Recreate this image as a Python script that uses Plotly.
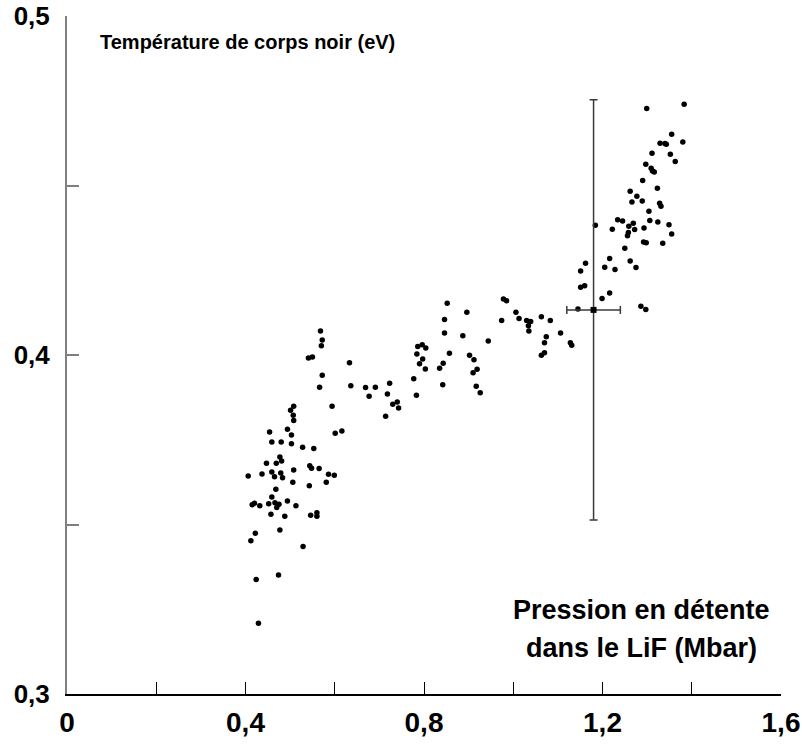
"""Température de corps noir vs pression en détente dans le LiF."""

import plotly.graph_objects as go

# ── Data ──────────────────────────────────────────────────────────────────────

pressure = [
    0.633, 0.572, 0.566, 0.636, 0.669, 0.691, 0.723, 0.677, 0.718, 0.730,
    0.740, 0.743, 0.714, 0.594, 0.508, 0.501, 0.507, 0.508, 0.454, 0.494,
    0.503, 0.459, 0.480, 0.503, 0.528, 0.553, 0.601, 0.616, 0.477, 0.447,
    0.469, 0.481, 0.544, 0.548, 0.565, 0.459, 0.479, 0.508, 0.406, 0.437,
    0.465, 0.483, 0.586, 0.599, 0.506, 0.543, 0.581, 0.468, 0.459, 0.415,
    0.420, 0.432, 0.452, 0.466, 0.475, 0.470, 0.494, 0.513, 0.457, 0.488,
    0.546, 0.560, 0.560, 0.422, 0.412, 0.477, 0.529, 0.424, 0.474, 0.429,
    0.852, 0.896, 0.846, 0.846, 0.887, 0.944, 0.978, 0.985, 0.974, 1.006,
    1.013, 1.030, 1.039, 1.034, 1.035, 1.063, 1.083, 1.106, 1.074, 1.070,
    1.070, 1.063, 1.128, 1.131, 1.145, 1.151, 1.160, 0.786, 0.796, 0.804,
    0.784, 0.797, 0.790, 0.803, 0.777, 0.783, 0.857, 0.843, 0.835, 0.842,
    0.902, 0.912, 0.919, 0.910, 0.917, 0.926,
    1.299, 1.383, 1.355, 1.329, 1.340, 1.343, 1.380, 1.311, 1.352, 1.363,
    1.297, 1.309, 1.312, 1.316, 1.290, 1.323, 1.262, 1.277, 1.266, 1.289,
    1.328, 1.331, 1.304, 1.234, 1.245, 1.306, 1.324, 1.269, 1.259, 1.293,
    1.272, 1.349, 1.184, 1.222, 1.258, 1.256, 1.355, 1.292, 1.298, 1.335,
    1.250, 1.216, 1.162, 1.262, 1.151, 1.205, 1.228, 1.275, 1.216, 1.199,
    1.286, 1.297,
    0.568, 0.572, 0.570, 0.550, 0.541,
]

temperature = [
    0.3977, 0.3940, 0.3905, 0.3909, 0.3904, 0.3905, 0.3917, 0.3878, 0.3885, 0.3855,
    0.3861, 0.3844, 0.3819, 0.3849, 0.3849, 0.3837, 0.3822, 0.3807, 0.3773, 0.3781,
    0.3764, 0.3743, 0.3743, 0.3738, 0.3728, 0.3724, 0.3769, 0.3776, 0.3699, 0.3681,
    0.3681, 0.3687, 0.3673, 0.3666, 0.3665, 0.3655, 0.3652, 0.3661, 0.3643, 0.3649,
    0.3641, 0.3638, 0.3648, 0.3645, 0.3625, 0.3614, 0.3625, 0.3604, 0.3581, 0.3558,
    0.3563, 0.3555, 0.3561, 0.3564, 0.3560, 0.3550, 0.3569, 0.3555, 0.3530, 0.3524,
    0.3527, 0.3535, 0.3524, 0.3474, 0.3452, 0.3484, 0.3435, 0.3338, 0.3351, 0.3209,
    0.4153, 0.4126, 0.4105, 0.4065, 0.4057, 0.4041, 0.4165, 0.4160, 0.4102, 0.4126,
    0.4108, 0.4102, 0.4099, 0.4086, 0.4071, 0.4113, 0.4102, 0.4065, 0.4054, 0.4036,
    0.4007, 0.3999, 0.4036, 0.4029, 0.4136, 0.4200, 0.4204, 0.4025, 0.4030, 0.4021,
    0.4003, 0.3988, 0.3974, 0.3959, 0.3930, 0.3881, 0.4005, 0.3976, 0.3961, 0.3912,
    0.3999, 0.3986, 0.3958, 0.3948, 0.3908, 0.3889,
    0.4727, 0.4740, 0.4651, 0.4625, 0.4624, 0.4622, 0.4628, 0.4595, 0.4592, 0.4571,
    0.4563, 0.4551, 0.4543, 0.4540, 0.4515, 0.4492, 0.4483, 0.4468, 0.4451, 0.4454,
    0.4448, 0.4439, 0.4424, 0.4399, 0.4395, 0.4397, 0.4392, 0.4389, 0.4380, 0.4375,
    0.4370, 0.4384, 0.4383, 0.4371, 0.4361, 0.4352, 0.4357, 0.4333, 0.4331, 0.4330,
    0.4315, 0.4285, 0.4271, 0.4277, 0.4248, 0.4259, 0.4252, 0.4258, 0.4183, 0.4167,
    0.4144, 0.4134,
    0.4071, 0.4044, 0.4027, 0.3994, 0.3991,
]

# representative point with its error bars
ref_pressure = [1.18]
ref_temperature = [0.4133]
ref_err_pressure = [0.06]
ref_err_temperature = [0.062]

x_ticks = [0, 0.2, 0.4, 0.6, 0.8, 1.0, 1.2, 1.4, 1.6]
x_ticktext = ["0", "", "0,4", "", "0,8", "", "1,2", "", "1,6"]
y_ticks = [0.3, 0.35, 0.4, 0.45, 0.5]
y_ticktext = ["0,3", "", "0,4", "", "0,5"]

# ── Figure ────────────────────────────────────────────────────────────────────

fig = go.Figure()

fig.add_trace(go.Scatter(
    x=pressure, y=temperature, mode="markers",
    marker=dict(color="black", size=5.5),
    hoverinfo="x+y", showlegend=False,
))

fig.add_trace(go.Scatter(
    x=ref_pressure, y=ref_temperature, mode="markers",
    marker=dict(color="black", size=6, symbol="square"),
    error_x=dict(type="data", array=ref_err_pressure, color="#3a3a3a", thickness=1.5, width=4),
    error_y=dict(type="data", array=ref_err_temperature, color="#3a3a3a", thickness=1.5, width=4),
    showlegend=False,
))

font_main = "Liberation Sans, Arial, sans-serif"

fig.update_layout(
    width=802, height=747,
    margin=dict(l=67, r=21, t=16, b=53),
    paper_bgcolor="white", plot_bgcolor="white",
    font=dict(family=font_main, color="black"),
    xaxis=dict(
        range=[0, 1.6], tickvals=x_ticks, ticktext=x_ticktext,
        ticks="inside", ticklen=12, tickwidth=1, tickcolor="black",
        showline=True, linecolor="black", linewidth=1.5,
        showgrid=False, zeroline=False, automargin=False,
        tickfont=dict(size=28, color="black", weight="bold"),
        ticklabelstandoff=3, ticklabeloverflow="allow",
    ),
    yaxis=dict(
        range=[0.3, 0.5], tickvals=y_ticks, ticktext=y_ticktext,
        ticks="inside", ticklen=12, tickwidth=1.5, tickcolor="#7f7f7f",
        showline=True, linecolor="#808080", linewidth=2,
        showgrid=False, zeroline=False, automargin=False,
        tickfont=dict(size=26, color="black", weight="bold"),
        ticklabelstandoff=10, ticklabeloverflow="allow",
    ),
)

fig.add_annotation(
    text="<b>Température de corps noir (eV)</b>",
    xref="paper", yref="paper", x=0.044, y=0.962,
    xanchor="left", yanchor="middle", showarrow=False,
    font=dict(size=20, color="black"),
)
fig.add_annotation(
    text="<b>Pression en détente</b>",
    xref="paper", yref="paper", x=0.805, y=0.124,
    xanchor="center", yanchor="middle", showarrow=False,
    font=dict(size=27, color="black"),
)
fig.add_annotation(
    text="<b>dans le LiF (Mbar)</b>",
    xref="paper", yref="paper", x=0.805, y=0.068,
    xanchor="center", yanchor="middle", showarrow=False,
    font=dict(size=27, color="black"),
)

# drop the default body margin so the figure fills the window exactly
fig.write_html(
    "out.html",
    config={"displayModeBar": False},
    post_script="document.body.style.margin = '0';",
)
